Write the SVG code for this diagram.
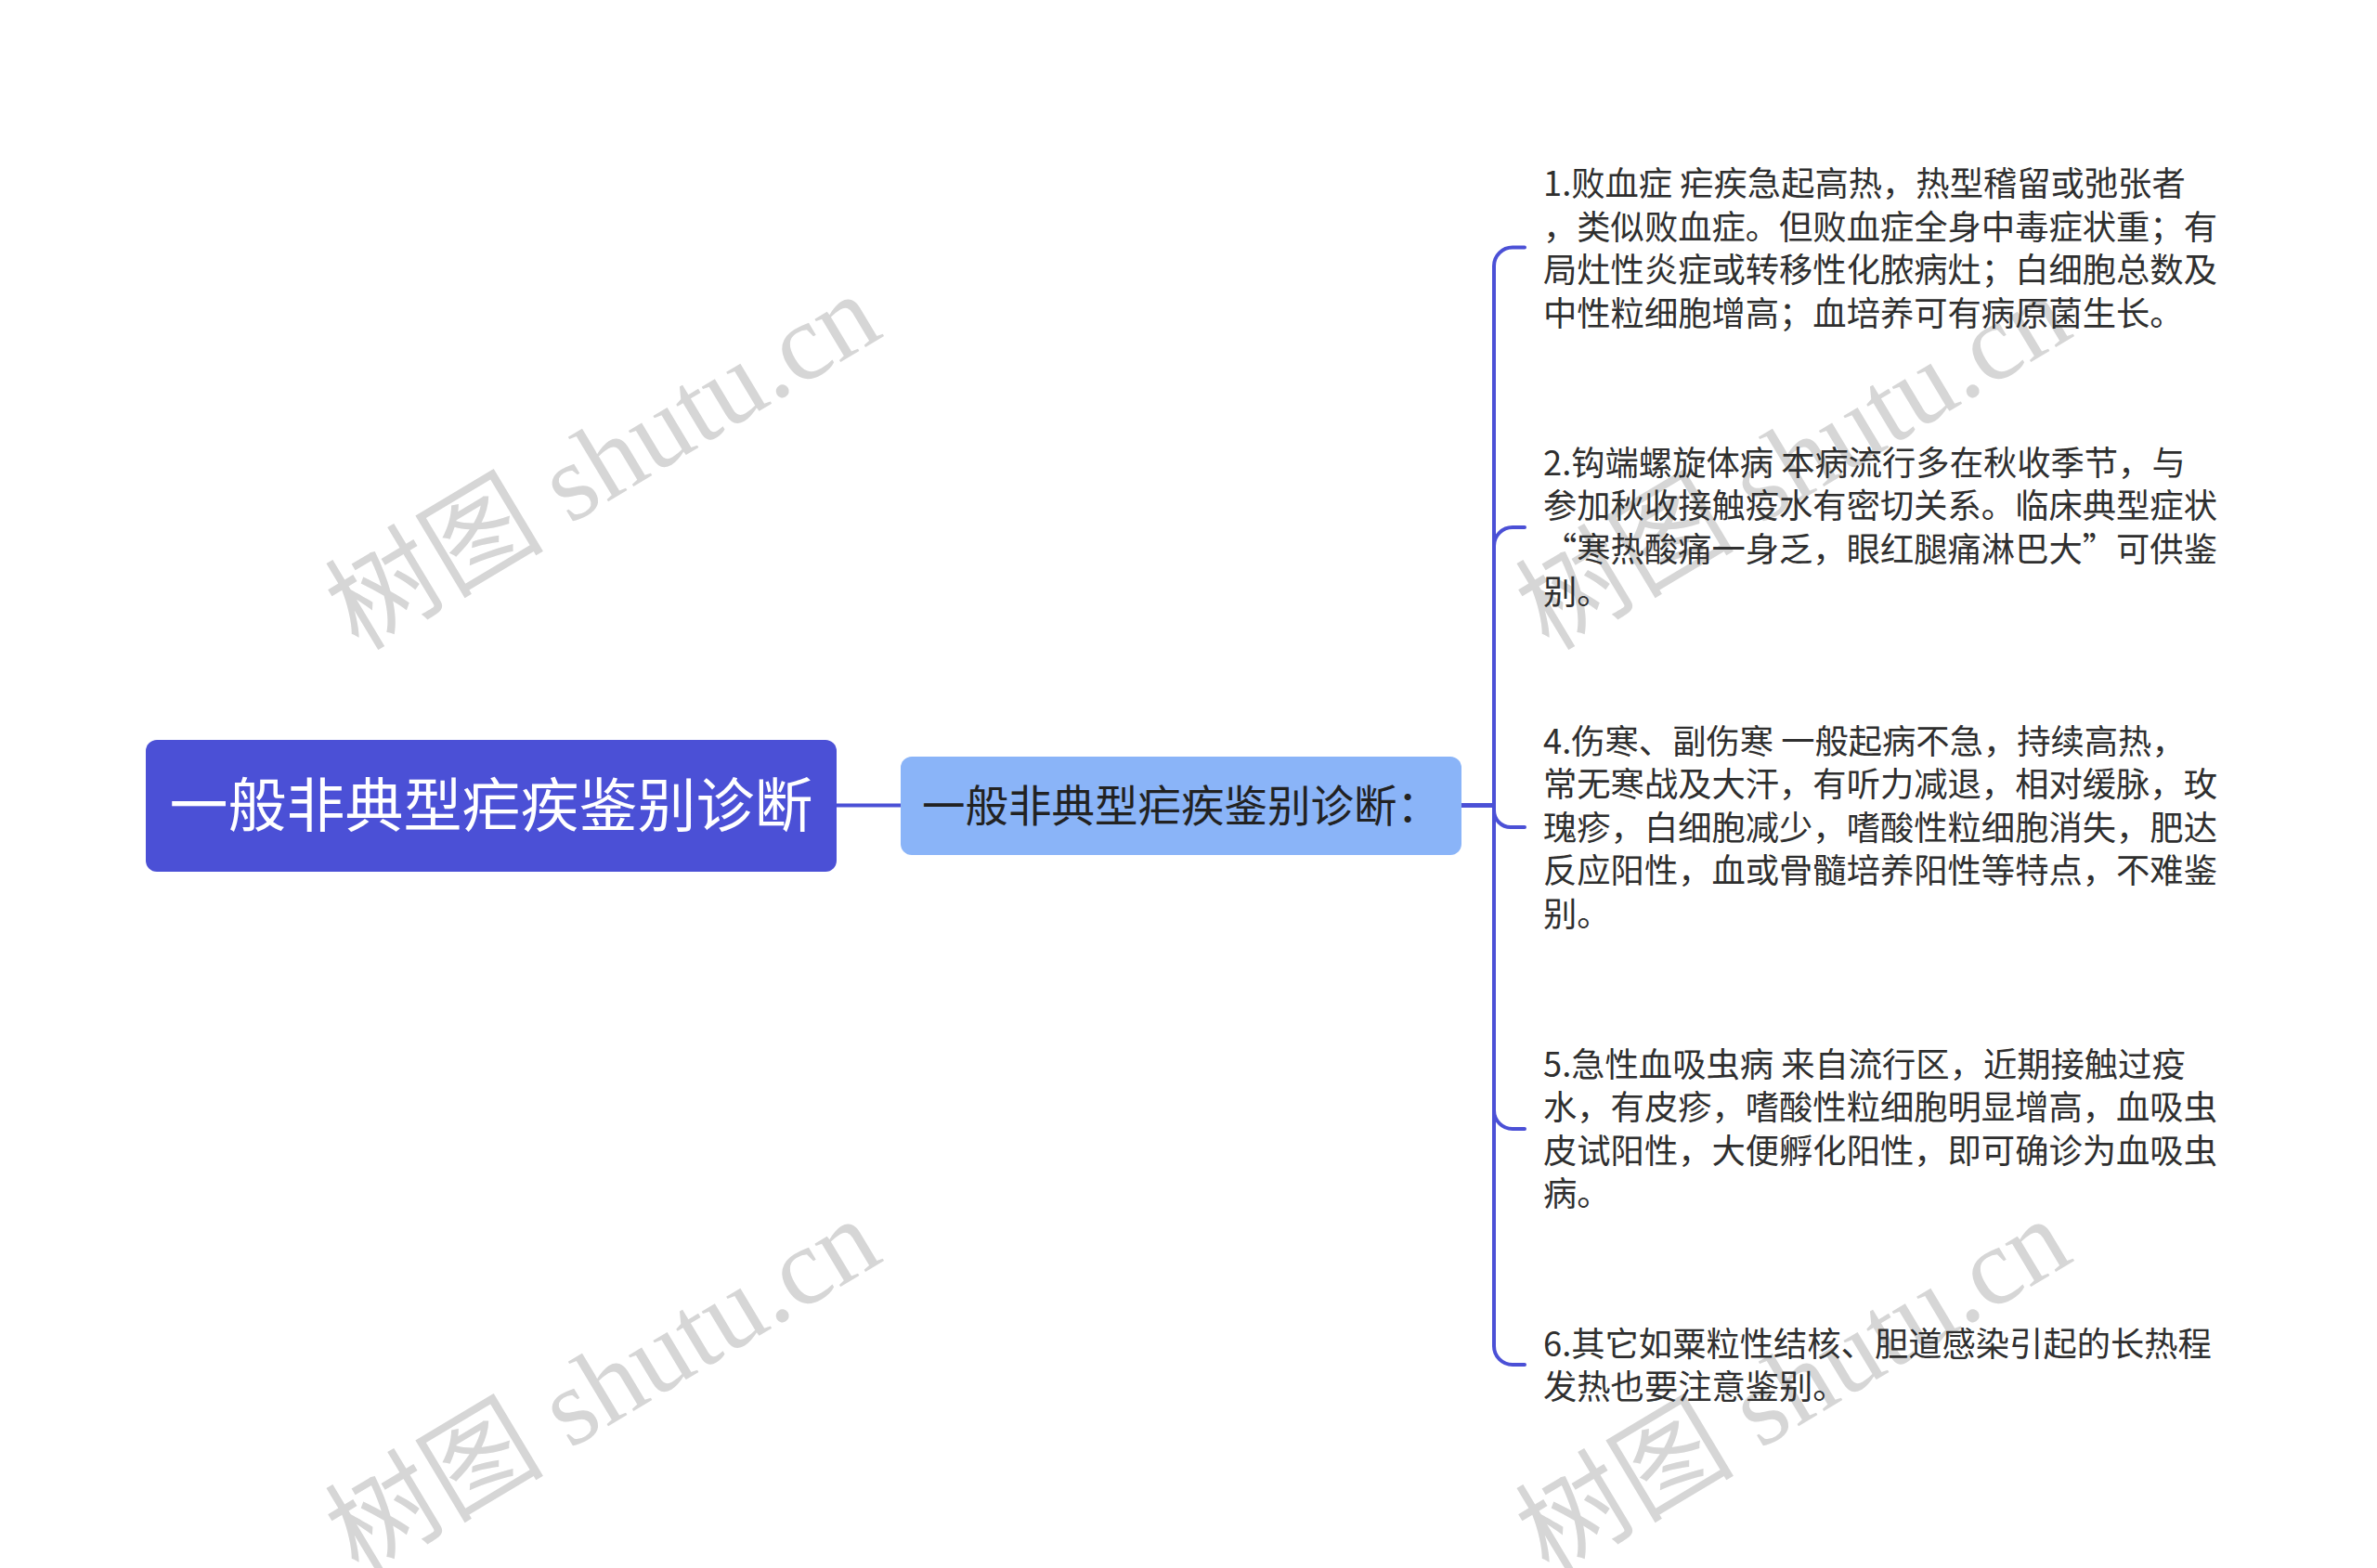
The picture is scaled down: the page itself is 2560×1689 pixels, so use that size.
<svg xmlns="http://www.w3.org/2000/svg" width="2560" height="1689" viewBox="0 0 2560 1689">
<style>
.wm{font-family:"Liberation Serif","Noto Sans CJK SC",serif;font-size:118px;fill:#d6d6d6;}
.t{font-family:"Noto Sans CJK SC","Noto Sans",sans-serif;font-size:36.3px;fill:#2f2f2f;}
.root{font-family:"Noto Sans CJK SC","Noto Sans",sans-serif;font-size:63px;fill:#ffffff;text-anchor:middle;}
.mid{font-family:"Noto Sans CJK SC","Noto Sans",sans-serif;font-size:46.5px;fill:#222222;text-anchor:middle;}
.c{fill:none;stroke:#4B50D6;stroke-width:4;stroke-linecap:round;}
</style>
<rect x="0" y="0" width="2560" height="1689" fill="#ffffff"/>
<g id="watermarks">
<text class="wm" transform="translate(386 702) rotate(-31)">树图 shutu.cn</text>
<text class="wm" transform="translate(1668 702) rotate(-31)">树图 shutu.cn</text>
<text class="wm" transform="translate(386 1698) rotate(-31)">树图 shutu.cn</text>
<text class="wm" transform="translate(1668 1698) rotate(-31)">树图 shutu.cn</text>
</g>
<g id="connectors">
<path class="c" d="M901,867.5 H970"/>
<path class="c" d="M1574,867.5 H1609 V286.5 A20 20 0 0 1 1629 266.5 H1642"/>
<path class="c" d="M1574,867.5 H1609 V588 A20 20 0 0 1 1629 568 H1642"/>
<path class="c" d="M1574,867.5 H1609 V873 A18 18 0 0 0 1627 891 H1642"/>
<path class="c" d="M1574,867.5 H1609 V1196 A20 20 0 0 0 1629 1216 H1642"/>
<path class="c" d="M1574,867.5 H1609 V1450 A20 20 0 0 0 1629 1470 H1642"/>
</g>
<g id="root">
<rect x="157" y="797" width="744" height="142" rx="12" fill="#4B50D6"/>
<text class="root" x="529" y="890">一般非典型疟疾鉴别诊断</text>
</g>
<g id="mid">
<rect x="970" y="815" width="604" height="106" rx="12" fill="#8AB4F8"/>
<text class="mid" x="1272" y="885">一般非典型疟疾鉴别诊断：</text>
</g>
<g id="n1">
<text class="t" x="1662" y="211">1.败血症 疟疾急起高热，热型稽留或弛张者</text>
<text class="t" x="1662" y="257.5">，类似败血症。但败血症全身中毒症状重；有</text>
<text class="t" x="1662" y="304">局灶性炎症或转移性化脓病灶；白细胞总数及</text>
<text class="t" x="1662" y="350.5">中性粒细胞增高；血培养可有病原菌生长。</text>
</g>
<g id="n2">
<text class="t" x="1662" y="511.5">2.钩端螺旋体病 本病流行多在秋收季节，与</text>
<text class="t" x="1662" y="558">参加秋收接触疫水有密切关系。临床典型症状</text>
<text class="t" x="1662" y="604.5">“寒热酸痛一身乏，眼红腿痛淋巴大”可供鉴</text>
<text class="t" x="1662" y="651">别。</text>
</g>
<g id="n4">
<text class="t" x="1662" y="811.5">4.伤寒、副伤寒 一般起病不急，持续高热，</text>
<text class="t" x="1662" y="858">常无寒战及大汗，有听力减退，相对缓脉，玫</text>
<text class="t" x="1662" y="904.5">瑰疹，白细胞减少，嗜酸性粒细胞消失，肥达</text>
<text class="t" x="1662" y="951">反应阳性，血或骨髓培养阳性等特点，不难鉴</text>
<text class="t" x="1662" y="997.5">别。</text>
</g>
<g id="n5">
<text class="t" x="1662" y="1159.5">5.急性血吸虫病 来自流行区，近期接触过疫</text>
<text class="t" x="1662" y="1206">水，有皮疹，嗜酸性粒细胞明显增高，血吸虫</text>
<text class="t" x="1662" y="1252.5">皮试阳性，大便孵化阳性，即可确诊为血吸虫</text>
<text class="t" x="1662" y="1299">病。</text>
</g>
<g id="n6">
<text class="t" x="1662" y="1460.5">6.其它如粟粒性结核、胆道感染引起的长热程</text>
<text class="t" x="1662" y="1507">发热也要注意鉴别。</text>
</g>
</svg>
